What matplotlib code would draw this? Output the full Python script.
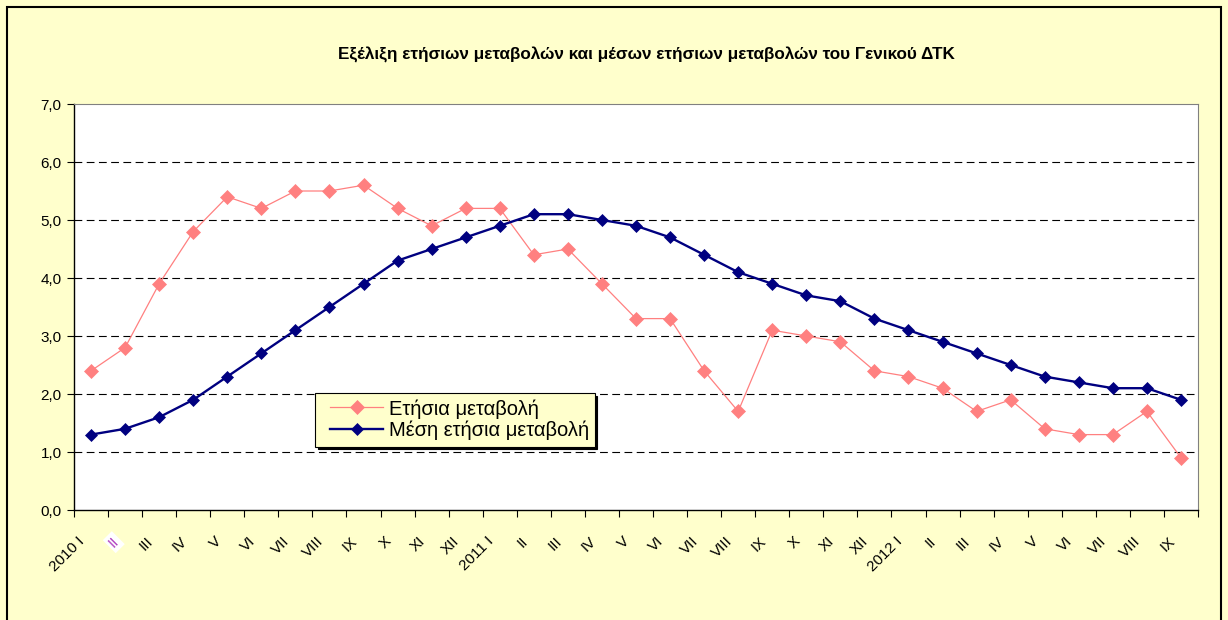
import matplotlib
matplotlib.use("Agg")
import matplotlib.pyplot as plt
from matplotlib.patches import Rectangle
from matplotlib.transforms import ScaledTranslation
from matplotlib.ticker import FuncFormatter, FixedLocator
from matplotlib.legend_handler import HandlerLine2D
from matplotlib.lines import Line2D
import numpy as np

plt.rcParams['font.family'] = ['Liberation Sans', 'DejaVu Sans']

categories = ["2010 I", "II", "III", "IV", "V", "VI", "VII", "VIII", "IX", "X", "XI", "XII",
              "2011 I", "II", "III", "IV", "V", "VI", "VII", "VIII", "IX", "X", "XI", "XII",
              "2012 I", "II", "III", "IV", "V", "VI", "VII", "VIII", "IX"]
annual_change = [2.4, 2.8, 3.9, 4.8, 5.4, 5.2, 5.5, 5.5, 5.6, 5.2, 4.9, 5.2,
                 5.2, 4.4, 4.5, 3.9, 3.3, 3.3, 2.4, 1.7, 3.1, 3.0, 2.9, 2.4,
                 2.3, 2.1, 1.7, 1.9, 1.4, 1.3, 1.3, 1.7, 0.9]
mean_annual_change = [1.3, 1.4, 1.6, 1.9, 2.3, 2.7, 3.1, 3.5, 3.9, 4.3, 4.5, 4.7,
                      4.9, 5.1, 5.1, 5.0, 4.9, 4.7, 4.4, 4.1, 3.9, 3.7, 3.6, 3.3,
                      3.1, 2.9, 2.7, 2.5, 2.3, 2.2, 2.1, 2.1, 1.9]
series_names = ["Ετήσια μεταβολή", "Μέση ετήσια μεταβολή"]
title = "Εξέλιξη ετήσιων μεταβολών και μέσων ετήσιων μεταβολών του Γενικού ΔΤΚ"

W, H = 1228, 620
fig = plt.figure(figsize=(W / 100, H / 100), dpi=100, facecolor='#FFFFCC')

# outer border
fig.patches.append(Rectangle((7 / W, -0.05), (1221 - 7) / W, 1.05 - 7 / H,
                             transform=fig.transFigure, fill=False,
                             edgecolor='black', linewidth=1.5, zorder=0))

L, R, T, B = 74, 1198, 104, 510
ax = fig.add_axes([L / W, (H - B) / H, (R - L) / W, (B - T) / H])
ax.set_facecolor('white')

x = np.arange(len(categories))
ax.plot(x, annual_change, color='#FF8080', lw=0.9, marker='D', ms=7.0,
        mfc='#FF8080', mec='#FF8080', mew=0.5, label=series_names[0], zorder=3)
ax.plot(x, mean_annual_change, color='#000080', lw=1.7, marker='D', ms=6.6,
        mfc='#000080', mec='#000080', mew=0.5, label=series_names[1], zorder=4)

ax.set_xlim(-0.5, len(categories) - 0.5)
ax.set_ylim(0, 7)
ax.set_yticks(np.arange(0, 7.01, 1))
ax.yaxis.set_major_formatter(FuncFormatter(lambda v, p: f"{v:.1f}".replace('.', ',')))
ax.tick_params(axis='y', direction='out', length=5, width=0.8, labelsize=11, pad=4)

for yv in range(1, 7):
    ax.axhline(yv, color='black', lw=0.8, ls=(0, (7, 4)), zorder=1)

ax.set_xticks(x)
ax.set_xticklabels(categories)
ax.xaxis.set_minor_locator(FixedLocator(np.arange(-0.5, len(categories), 1)))
ax.tick_params(axis='x', which='major', length=0, labelsize=11, pad=21)
ax.tick_params(axis='x', which='minor', direction='out', length=5, width=0.8)
offset = ScaledTranslation(-6 / 72, 0, fig.dpi_scale_trans)
for i, lab in enumerate(ax.get_xticklabels()):
    lab.set_rotation(45)
    lab.set_rotation_mode('anchor')
    lab.set_ha('right')
    lab.set_va('center')
    lab.set_transform(lab.get_transform() + offset)
    if i == 1:
        lab.set_color('#B040C0')
        lab.set_bbox(dict(facecolor='white', edgecolor='none', pad=1.5))

for s in ['top', 'right']:
    ax.spines[s].set_color('#808080')
    ax.spines[s].set_linewidth(0.8)
for s in ['left', 'bottom']:
    ax.spines[s].set_color('black')
    ax.spines[s].set_linewidth(1.0)

fig.text(646 / W, 1 - 55 / H, title, ha='center', va='center',
         fontsize=12.3, fontweight='bold')

leg_fs = 14.5
leg = ax.legend(loc='upper left', bbox_to_anchor=(315 / W, 1 - 393 / H),
                bbox_transform=fig.transFigure, borderaxespad=0,
                fontsize=leg_fs, frameon=True, fancybox=False,
                shadow={'color': 'black', 'alpha': 1},
                handlelength=3.1, handletextpad=0.25, labelspacing=0.12,
                borderpad=0.3,
                handler_map={Line2D: HandlerLine2D(xpad=0.45)})
leg.get_frame().set_facecolor('#FFFFCC')
leg.get_frame().set_edgecolor('black')
leg.get_frame().set_linewidth(0.8)
leg.get_frame().set_alpha(1)

fig.savefig('out.png', dpi=100, facecolor=fig.get_facecolor())
